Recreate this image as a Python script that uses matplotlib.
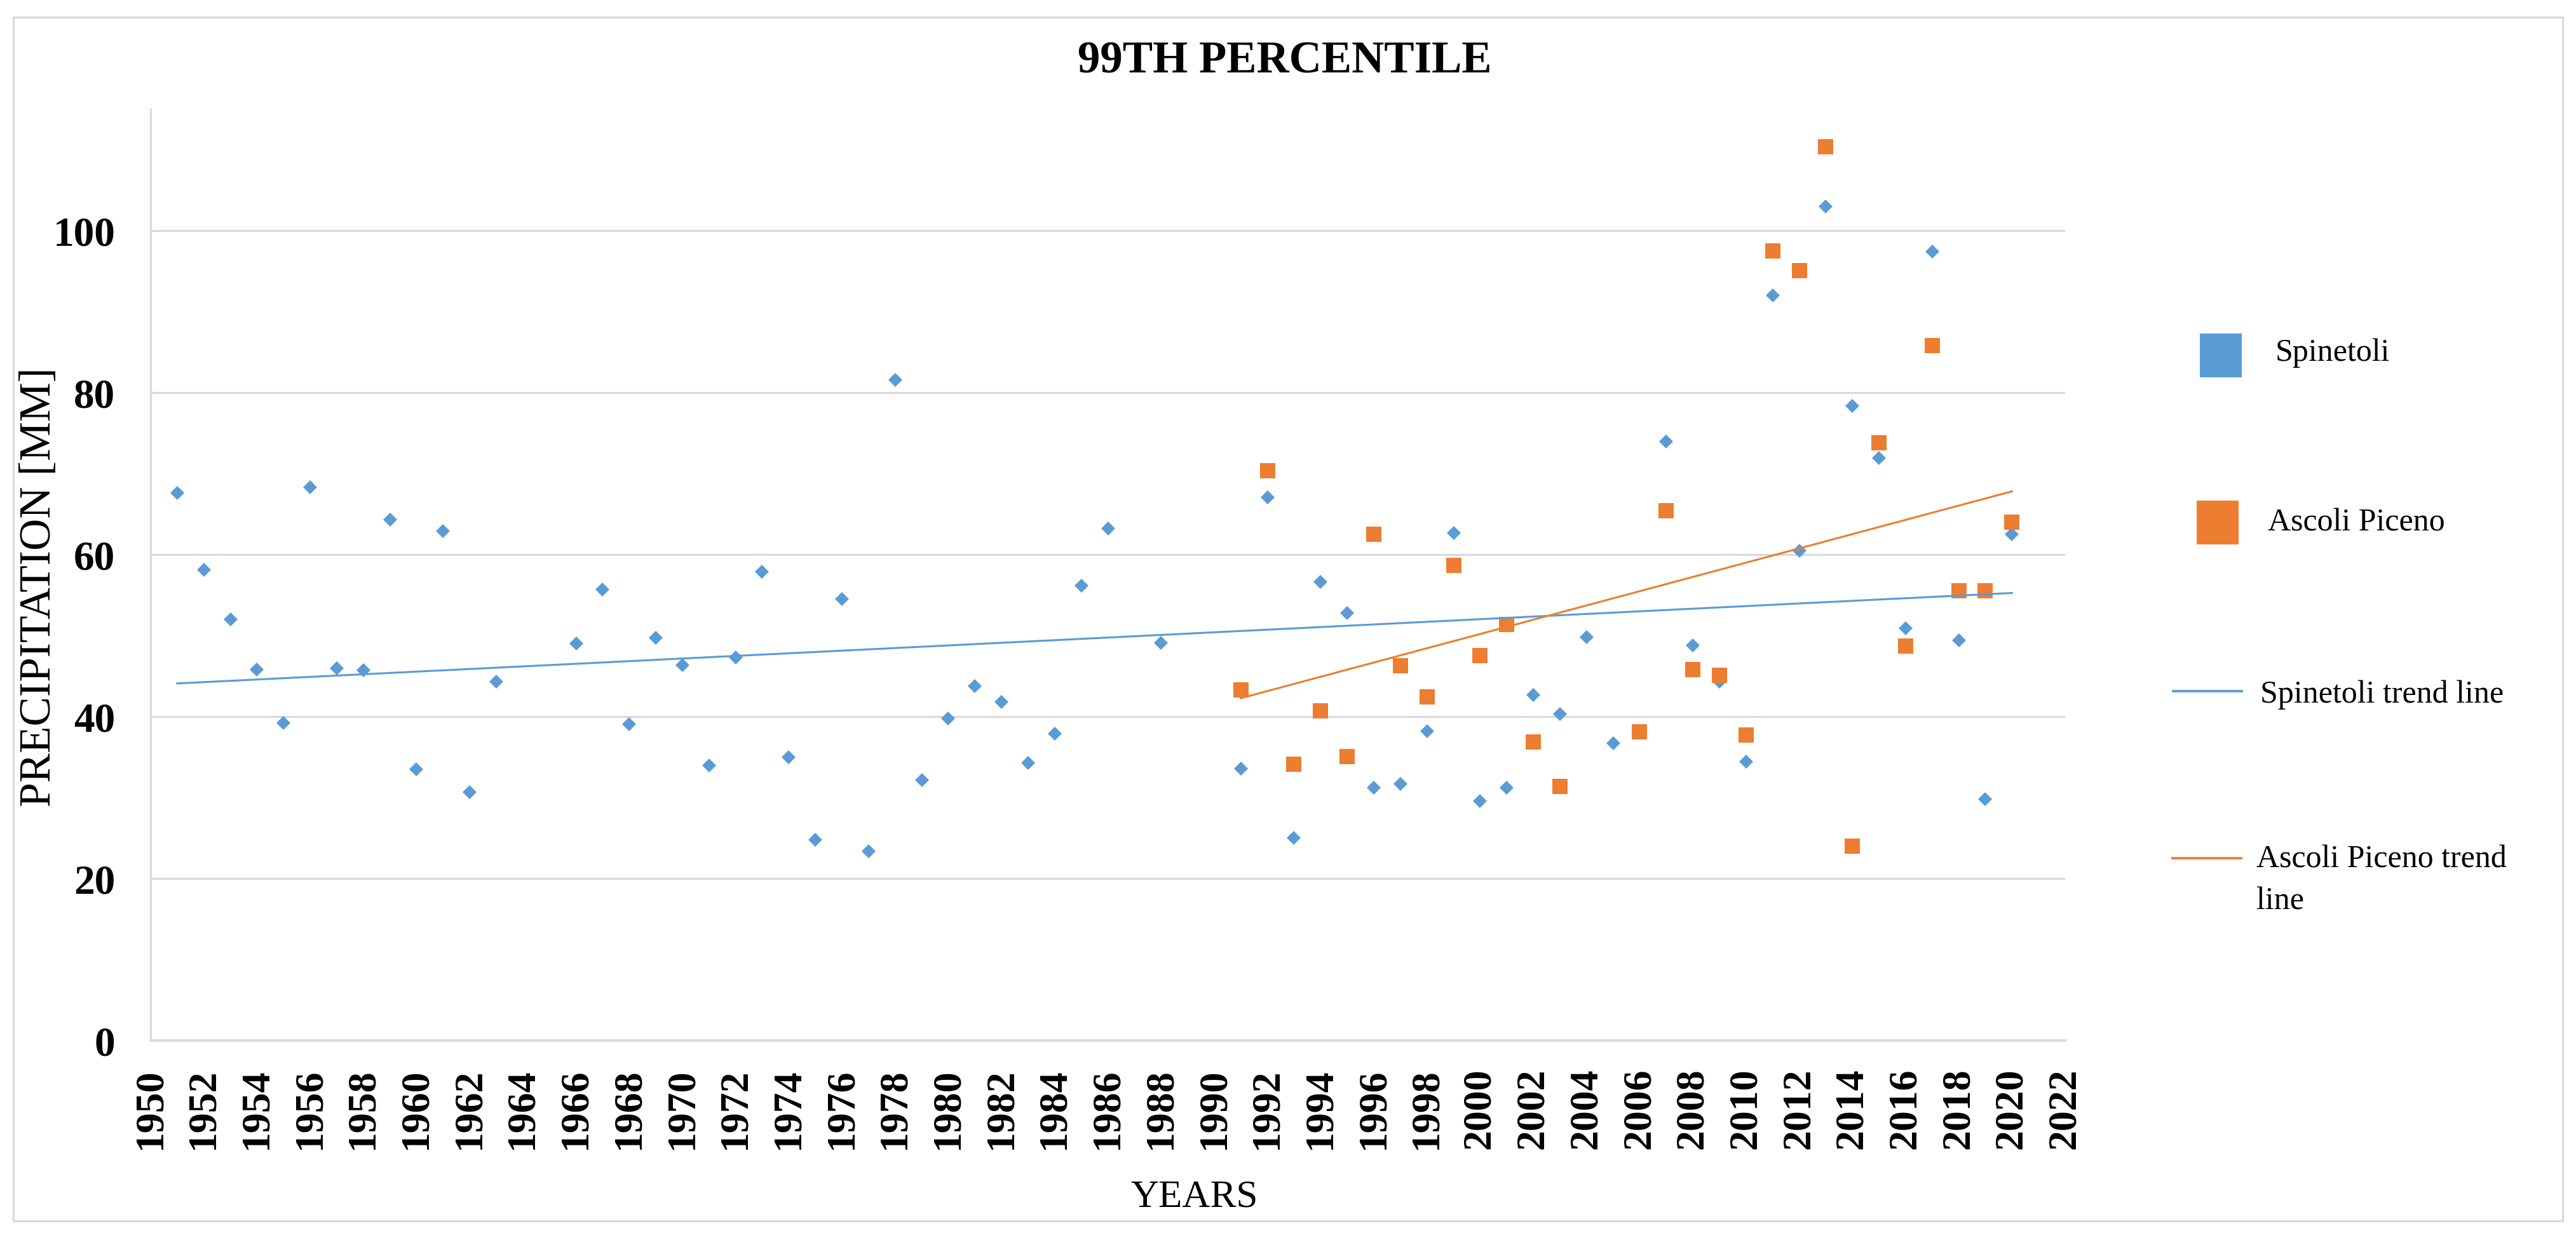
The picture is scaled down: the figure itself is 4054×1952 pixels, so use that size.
import numpy as np
import matplotlib
matplotlib.use('Agg')
import matplotlib.pyplot as plt
from matplotlib.patches import Rectangle
from matplotlib.lines import Line2D

plt.rcParams['font.family'] = ['Liberation Serif', 'DejaVu Serif']

# ---------------- data ----------------
spinetoli_years = [1951, 1952, 1953, 1954, 1955, 1956, 1957, 1958, 1959, 1960,
                   1961, 1962, 1963, 1966, 1967, 1968, 1969, 1970, 1971, 1972,
                   1973, 1974, 1975, 1976, 1977, 1978, 1979, 1980, 1981, 1982,
                   1983, 1984, 1985, 1986, 1988, 1991, 1992, 1993, 1994, 1995,
                   1996, 1997, 1998, 1999, 2000, 2001, 2002, 2003, 2004, 2005,
                   2007, 2008, 2009, 2010, 2011, 2012, 2013, 2014, 2015, 2016,
                   2017, 2018, 2019, 2020]
spinetoli_values = [67.6, 58.1, 52.0, 45.8, 39.2, 68.3, 46.0, 45.7, 64.3, 33.5,
                    62.9, 30.7, 44.3, 49.0, 55.7, 39.1, 49.7, 46.4, 34.0, 47.3,
                    57.9, 35.0, 24.8, 54.5, 23.4, 81.6, 32.2, 39.8, 43.8, 41.8,
                    34.3, 37.9, 56.2, 63.2, 49.1, 33.6, 67.1, 25.0, 56.6, 52.8,
                    31.2, 31.7, 38.2, 62.7, 29.6, 31.2, 42.7, 40.3, 49.8, 36.7,
                    74.0, 48.8, 44.3, 34.4, 92.0, 60.5, 103.0, 78.4, 71.9, 50.9,
                    97.4, 49.4, 29.8, 62.5]

ascoli_years = [1991, 1992, 1993, 1994, 1995, 1996, 1997, 1998, 1999, 2000,
                2001, 2002, 2003, 2006, 2007, 2008, 2009, 2010, 2011, 2012,
                2013, 2014, 2015, 2016, 2017, 2018, 2019, 2020]
ascoli_values = [43.3, 70.4, 34.1, 40.7, 35.1, 62.5, 46.3, 42.4, 58.7, 47.5,
                 51.4, 36.9, 31.4, 38.1, 65.4, 45.8, 45.1, 37.7, 97.5, 95.1,
                 110.4, 24.0, 73.8, 48.7, 85.8, 55.5, 55.5, 64.0]

x_ticks = list(range(1950, 2023, 2))
y_ticks = [0, 20, 40, 60, 80, 100]

title = "99TH PERCENTILE"
x_label = "YEARS"
y_label = "PRECIPITATION [MM]"
legend_labels = ["Spinetoli", "Ascoli Piceno", "Spinetoli trend line",
                 "Ascoli Piceno trend\nline"]

BLUE = '#5B9BD5'
ORANGE = '#ED7D31'
GRID = '#D9D9D9'

# ---------------- figure ----------------
W, H = 4054, 1952
fig = plt.figure(figsize=(W / 100, H / 100), dpi=100)
fig.patch.set_facecolor('white')


def fx(px):
    return px / W


def fy(py):
    return 1 - py / H


# outer chart border
fig.add_artist(Rectangle((fx(21), fy(1922)), fx(4033) - fx(21), fy(27) - fy(1922),
                         transform=fig.transFigure, fill=False, ec=GRID, lw=2.2))

ax = fig.add_axes([fx(237), fy(1638), fx(3250) - fx(237), fy(172) - fy(1638)])

sx = np.array(spinetoli_years, dtype=float)
sy = np.array(spinetoli_values)
axx = np.array(ascoli_years, dtype=float)
ayy = np.array(ascoli_values)

ax.plot(sx, sy, linestyle='none', marker='D', markersize=11.5,
        color=BLUE, markeredgewidth=0, zorder=3)
ax.plot(axx, ayy, linestyle='none', marker='s', markersize=17,
        color=ORANGE, markeredgewidth=0, zorder=4)

# linear trend lines (least squares, like Excel)
ps = np.polyfit(sx, sy, 1)
pa = np.polyfit(axx, ayy, 1)
xs_line = np.array([sx.min(), sx.max()])
xa_line = np.array([axx.min(), axx.max()])
ax.plot(xs_line, np.polyval(ps, xs_line), color=BLUE, lw=2.2, zorder=5)
ax.plot(xa_line, np.polyval(pa, xa_line), color=ORANGE, lw=2.2, zorder=5)

ax.set_xlim(1950, 2022)
ax.set_ylim(0, 115)
ax.set_xticks(x_ticks)
ax.set_yticks(y_ticks)
ax.set_xticklabels([str(v) for v in x_ticks], rotation=90, fontsize=46,
                   fontweight='bold')
ax.set_yticklabels([str(v) for v in y_ticks], fontsize=47, fontweight='bold')
ax.tick_params(axis='both', length=0)
ax.tick_params(axis='y', pad=40)
ax.tick_params(axis='x', pad=31)

ax.yaxis.grid(True, color=GRID, lw=2.2)
ax.xaxis.grid(False)
ax.set_axisbelow(True)
for s in ['top', 'right']:
    ax.spines[s].set_visible(False)
ax.spines['left'].set_color(GRID)
ax.spines['left'].set_linewidth(2.2)
ax.spines['bottom'].set_color(GRID)
ax.spines['bottom'].set_linewidth(3)

ax.set_ylabel(y_label, fontsize=50)
ax.yaxis.set_label_coords(-0.0475, 0.487)
ax.set_xlabel(x_label, fontsize=44)
ax.xaxis.label.set_va('center')
ax.xaxis.set_label_coords((1880 - 237) / (3250 - 237), (1638 - 1885) / (1638 - 172))

fig.text(fx(2022), fy(97), title, ha='center', va='center', fontsize=51,
         fontweight='bold')

# ---------------- legend (Excel-style, right side) ----------------
leg_fs = 36
# Spinetoli marker
fig.add_artist(Rectangle((fx(3462), fy(594)), fx(3528) - fx(3462), fy(525) - fy(594),
                         transform=fig.transFigure, color=BLUE, lw=0))
fig.text(fx(3581), fy(556), legend_labels[0], ha='left', va='center', fontsize=leg_fs)
# Ascoli Piceno marker
fig.add_artist(Rectangle((fx(3457), fy(857)), fx(3523) - fx(3457), fy(788) - fy(857),
                         transform=fig.transFigure, color=ORANGE, lw=0))
fig.text(fx(3569), fy(823), legend_labels[1], ha='left', va='center', fontsize=leg_fs)
# trend lines
fig.add_artist(Line2D([fx(3420), fx(3528)], [fy(1088), fy(1088)],
                      transform=fig.transFigure, color=BLUE, lw=2.8))
fig.text(fx(3557), fy(1094), legend_labels[2], ha='left', va='center', fontsize=leg_fs)
fig.add_artist(Line2D([fx(3419), fx(3527)], [fy(1351), fy(1351)],
                      transform=fig.transFigure, color=ORANGE, lw=2.8))
fig.text(fx(3551), fy(1330), legend_labels[3], ha='left', va='top', fontsize=leg_fs,
         linespacing=1.55)

fig.savefig('out.png', dpi=100, facecolor='white')
